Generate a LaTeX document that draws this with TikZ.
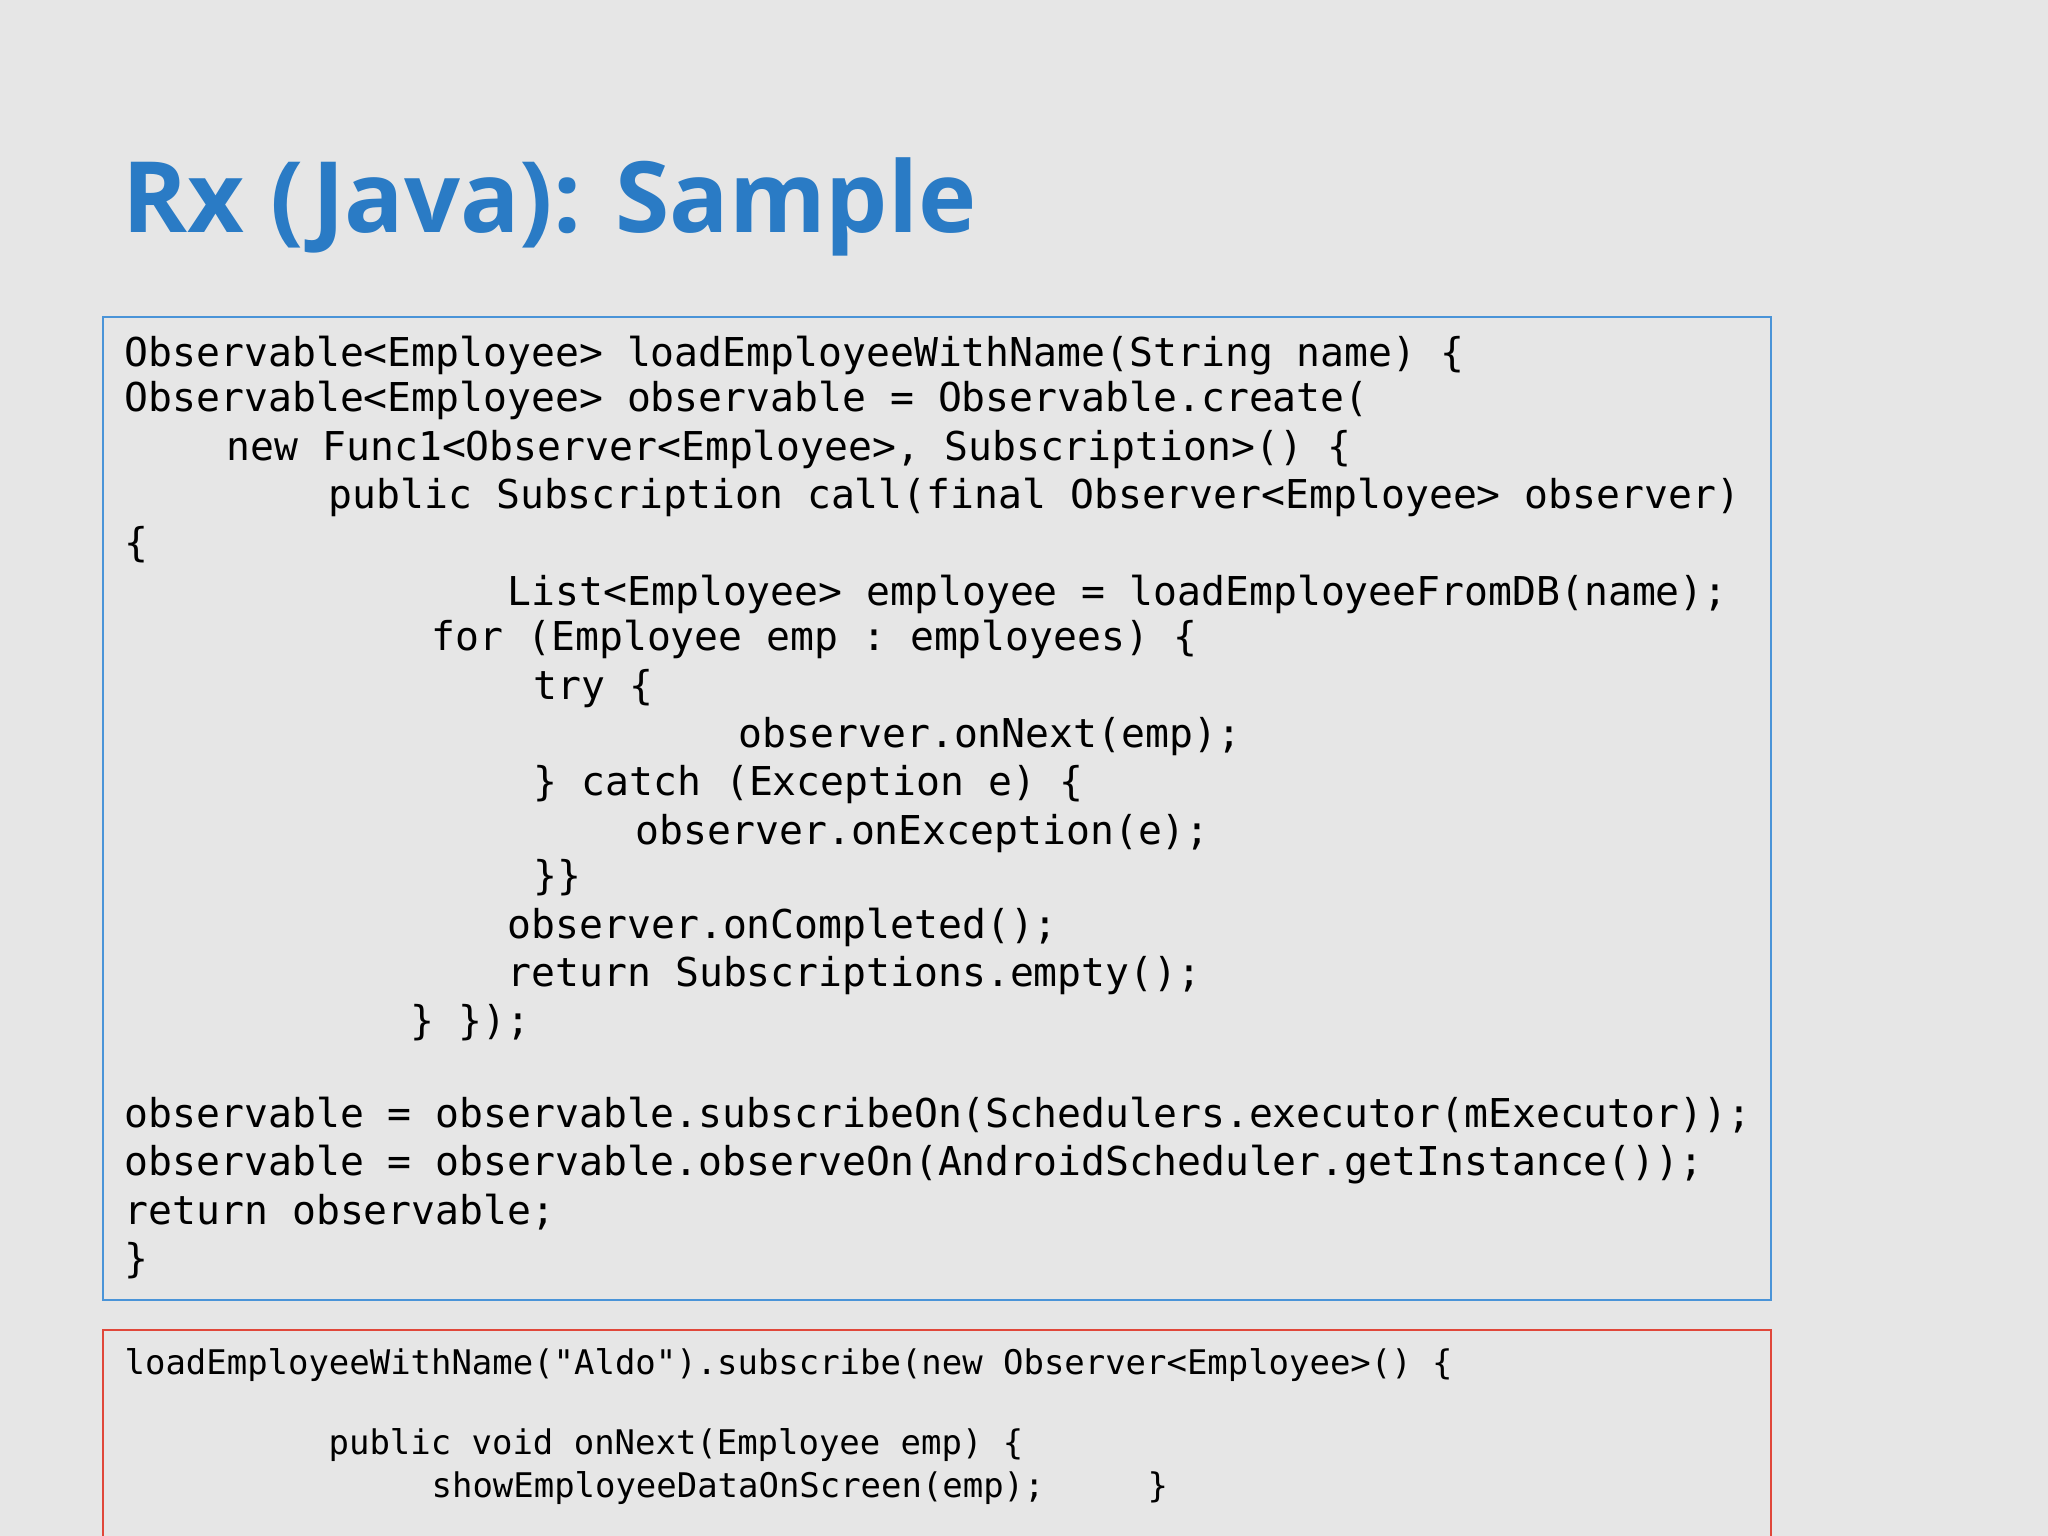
\documentclass[tikz,border=0pt]{standalone}
\usepackage{fontspec}
\setmainfont{Open Sans}
\setmonofont{DejaVu Sans Mono}
\definecolor{bg}{HTML}{E6E6E6}
\definecolor{ttl}{HTML}{2A7BC5}
\definecolor{bbox}{HTML}{4A94D8}
\definecolor{rbox}{HTML}{E0473A}
\begin{document}
\begin{tikzpicture}[x=0.01cm,y=-0.01cm,
  code/.style={anchor=base west,inner sep=0,font=\ttfamily\fontsize{11.3}{13}\selectfont},
  scode/.style={anchor=base west,inner sep=0,font=\ttfamily\fontsize{9.65}{11}\selectfont}]
\fill[bg] (0,0) rectangle (2048,1536);
\useasboundingbox (0,0) rectangle (2048,1536);
\node[anchor=base west,inner sep=0,text=ttl,font=\bfseries\fontsize{28}{32}\selectfont] (title) at (122,232) {Rx (Java): Sample};
\draw[bbox,line width=0.8pt] (103,317) rectangle (1771,1300);
\draw[rbox,line width=0.8pt] (103,1330) rectangle (1771,1560);
\node[code] (l1) at (124,366) {Observable<Employee> loadEmployeeWithName(String name) \{};
\node[code] (l2) at (124,411) {Observable<Employee> observable = Observable.create(};
\node[code] (l3) at (226,460) {new Func1<Observer<Employee>, Subscription>() \{};
\node[code] (l4) at (328,508) {public Subscription call(final Observer<Employee> observer)};
\node[code] (l5) at (124,556) {\{};
\node[code] (l6) at (507,605) {List<Employee> employee = loadEmployeeFromDB(name);};
\node[code] (l7) at (431,650) {for (Employee emp : employees) \{};
\node[code] (l8) at (533,699) {try \{};
\node[code] (l9) at (738,747) {observer.onNext(emp);};
\node[code] (l10) at (533,795) {\} catch (Exception e) \{};
\node[code] (l11) at (635,844) {observer.onException(e);};
\node[code] (l12) at (533,889) {\}\}};
\node[code] (l13) at (507,938) {observer.onCompleted();};
\node[code] (l14) at (507,986) {return Subscriptions.empty();};
\node[code] (l15) at (410,1034) {\} \});};
\node[code] (l16) at (124,1127) {observable = observable.subscribeOn(Schedulers.executor(mExecutor));};
\node[code] (l17) at (124,1175) {observable = observable.observeOn(AndroidScheduler.getInstance());};
\node[code] (l18) at (124,1224) {return observable;};
\node[code] (l19) at (124,1272) {\}};
\node[scode] (r1) at (124,1374) {loadEmployeeWithName("Aldo").subscribe(new Observer<Employee>() \{};
\node[scode] (r2) at (328,1454) {public void onNext(Employee emp) \{};
\node[scode] (r3) at (431,1497) {showEmployeeDataOnScreen(emp);};
\node[scode] (r4) at (1147,1497) {\}};
\end{tikzpicture}
\end{document}
